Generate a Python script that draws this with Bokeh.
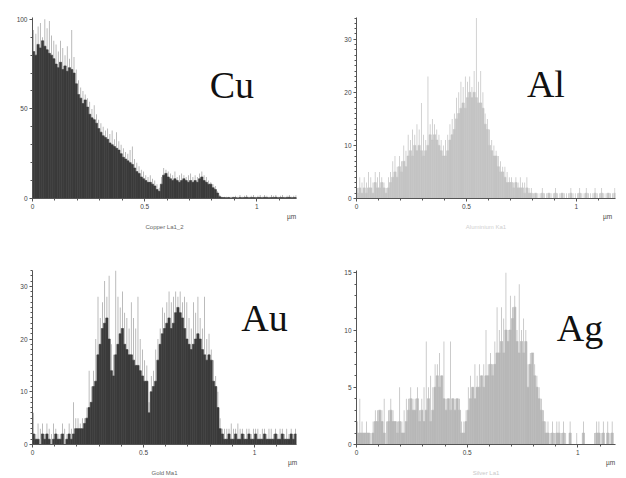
import numpy as np
from bokeh.plotting import figure
from bokeh.layouts import gridplot
from bokeh.models import (Range1d, FixedTicker, Label, NumeralTickFormatter,
                          LinearAxis, CustomJSTickFormatter)
from bokeh.embed import file_html
from bokeh.resources import INLINE

BIN = 0.01  # µm per histogram bin

# ---------------- data (counts per bin) ----------------
cu_body = [82, 80, 86, 84, 88, 85, 83, 81, 80, 78,
           75, 73, 76, 72, 74, 71, 73, 72, 70, 64,
           58, 56, 53, 55, 51, 47, 45, 44, 42, 39,
           37, 35, 34, 33, 31, 30, 29, 28, 27, 25,
           23, 22, 21, 20, 19, 17, 15, 14, 12, 11,
           10, 9, 9, 8, 7, 5, 4, 8, 13, 14,
           12, 11, 10, 11, 10, 9, 10, 11, 10, 9,
           10, 9, 10, 9, 11, 12, 10, 9, 8, 8,
           6, 5, 3, 1, 0.5, 0.5, 0.4, 0.5, 0.3, 0.6,
           0.5, 0.3, 0.6, 0.4, 0.5, 0.7, 0.4, 0.5, 0.6, 0.4,
           0.5, 0.6, 0.4, 0.7, 0.5, 0.4, 0.6, 0.5, 0.7, 0.4,
           0.5, 0.6, 0.4, 0.5, 0.7, 0.4, 0.5, 0.6]
cu_peak = [94, 92, 96, 98, 90, 100, 95, 99, 91, 88,
           86, 82, 88, 84, 80, 85, 78, 94, 79, 72,
           66, 62, 60, 58, 56, 54, 50, 52, 47, 44,
           42, 40, 38, 39, 36, 38, 33, 37, 32, 30,
           28, 26, 25, 27, 29, 22, 20, 18, 16, 15,
           13, 12, 13, 11, 10, 8, 6, 12, 17, 16,
           15, 14, 13, 15, 12, 13, 14, 13, 12, 13,
           14, 12, 13, 12, 14, 15, 13, 12, 10, 9,
           8, 7, 4, 2, 1, 1, 1, 1, 1, 1,
           1.5, 1, 2, 1, 1.5, 2, 1, 1.5, 2, 1,
           1.5, 2, 1, 2, 1.5, 1, 2, 1.5, 2, 1,
           1.5, 2, 1, 1.5, 2, 1, 1.5, 2]

al_body = [1, 2, 1, 2, 1, 2, 2, 1, 3, 2,
           2, 3, 2, 1, 2, 3, 4, 5, 4, 6,
           5, 7, 6, 8, 9, 8, 10, 9, 10, 9,
           8, 9, 10, 12, 11, 12, 11, 10, 9, 8,
           8, 9, 11, 12, 13, 15, 16, 17, 18, 17,
           19, 20, 19, 20, 19, 18, 18, 17, 14, 13,
           10, 9, 8, 8, 6, 5, 5, 4, 3, 3,
           3, 2, 3, 2, 2, 2, 1, 2, 1, 1,
           0, 1, 0, 0, 1, 0, 0, 1, 0, 0,
           1, 0, 0, 1, 0, 0, 0, 1, 0, 0,
           0, 1, 0, 0, 1, 0, 0, 0, 1, 0,
           0, 1, 0, 0, 1, 0, 0, 1]
al_peak = [2, 4, 3, 4, 3, 5, 4, 3, 5, 4,
           5, 4, 3, 2, 4, 5, 7, 8, 6, 8,
           7, 10, 9, 12, 11, 13, 12, 14, 13, 18,
           12, 11, 23, 14, 15, 14, 13, 12, 11, 10,
           11, 12, 14, 15, 16, 19, 20, 22, 21, 23,
           22, 23, 21, 24, 34, 22, 24, 20, 16, 15,
           13, 11, 10, 9, 8, 7, 6, 6, 5, 4,
           4, 3, 4, 3, 4, 3, 3, 4, 2, 2,
           1, 1, 1, 1, 2, 1, 1, 1, 1, 1,
           2, 1, 1, 1, 1, 1, 1, 2, 1, 1,
           1, 2, 1, 1, 2, 1, 1, 1, 2, 1,
           1, 2, 1, 1, 1, 1, 1, 2]

au_body = [2, 1, 1, 0, 2, 1, 2, 1, 0, 1,
           2, 1, 1, 2, 0, 1, 2, 1, 2, 3,
           3, 3, 3, 4, 5, 7, 8, 11, 12, 17,
           19, 22, 23, 24, 20, 14, 13, 17, 19, 21,
           22, 19, 18, 17, 17, 16, 15, 15, 14, 13,
           12, 12, 6, 10, 11, 12, 16, 19, 21, 22,
           23, 24, 22, 23, 25, 26, 25, 24, 22, 20,
           19, 18, 19, 20, 21, 20, 18, 17, 16, 17,
           16, 12, 11, 7, 3, 2, 1, 1, 2, 1,
           1, 2, 1, 1, 2, 1, 1, 2, 1, 1,
           2, 1, 1, 1, 2, 1, 1, 1, 1, 2,
           1, 1, 2, 1, 1, 1, 2, 1, 2]
au_peak = [6, 2, 4, 3, 4, 2, 4, 3, 2, 4,
           3, 2, 2, 4, 3, 2, 4, 3, 8, 5,
           5, 4, 5, 5, 7, 14, 11, 14, 20, 28,
           24, 27, 31, 28, 32, 19, 17, 33, 28, 26,
           29, 25, 24, 22, 27, 24, 22, 28, 20, 18,
           16, 15, 8, 13, 14, 18, 20, 22, 26, 25,
           27, 29, 27, 28, 29, 28, 29, 27, 28, 27,
           24, 22, 27, 25, 28, 24, 22, 28, 20, 21,
           18, 16, 13, 10, 5, 3, 3, 3, 3, 4,
           3, 3, 4, 3, 3, 2, 3, 3, 2, 3,
           3, 3, 2, 3, 3, 2, 3, 3, 2, 3,
           2, 3, 3, 2, 3, 2, 3, 2, 3]

ag_body = [1, 1, 1, 1, 1, 1, 0, 1, 2, 2,
           3, 2, 1, 0, 2, 3, 2, 2, 1, 2,
           1, 1, 2, 3, 4, 3, 3, 4, 2, 3,
           2, 3, 4, 2, 3, 5, 6, 5, 6, 4,
           3, 4, 3, 4, 3, 4, 3, 1, 1, 2,
           3, 4, 5, 4, 5, 5, 6, 5, 6, 6,
           7, 6, 7, 8, 8, 9, 8, 10, 9, 10,
           11, 12, 9, 8, 9, 8, 9, 5, 7, 8,
           6, 5, 4, 3, 2, 1, 1, 0, 1, 0,
           1, 1, 0, 1, 0, 0, 1, 0, 0, 0,
           0, 0, 1, 0, 0, 0, 0, 0, 1, 1,
           0, 1, 0, 1, 0, 1, 0]
ag_peak = [2, 4, 2, 1, 2, 1, 1, 2, 3, 3,
           3, 3, 4, 2, 3, 4, 3, 2, 2, 5,
           2, 3, 4, 4, 5, 4, 4, 5, 3, 4,
           5, 9, 5, 6, 5, 7, 7, 8, 6, 9,
           4, 4, 9, 4, 4, 4, 4, 2, 2, 3,
           5, 6, 5, 7, 6, 7, 6, 7, 10, 7,
           8, 7, 9, 12, 10, 12, 11, 15, 10, 13,
           12, 13, 10, 14, 10, 11, 10, 7, 8, 8,
           7, 6, 5, 4, 3, 2, 2, 1, 2, 1,
           2, 2, 1, 2, 1, 0, 2, 0, 0, 1,
           0, 0, 2, 0, 0, 0, 0, 1, 2, 2,
           1, 2, 0, 2, 1, 2, 0]

elements = ["Cu", "Al", "Au", "Ag"]
axis_titles = ["Copper La1_2", "Aluminium Ka1", "Gold Ma1", "Silver La1"]
unit_label = "µm"
y_major = [[0, 50, 100], [0, 10, 20, 30], [0, 10, 20, 30], [0, 5, 10, 15]]
y_minor_step = [10, 1, 1, 1]
x_major = [0, 0.5, 1]


def panel(body, peak, element, title, ymaj, ystep, x_end, y_end, unit_x,
          w, h, bl, br, bt, bb, body_col, peak_col, title_col,
          el_x, el_y):
    n = len(body)
    xs = np.arange(n) * BIN + BIN / 2
    p = figure(width=w, height=h, output_backend="svg", toolbar_location=None,
               x_range=Range1d(0, x_end), y_range=Range1d(0, y_end),
               min_border_left=bl, min_border_right=br,
               min_border_top=bt, min_border_bottom=bb,
               background_fill_color="white", border_fill_color="white")
    p.outline_line_color = None
    p.grid.visible = False
    p.vbar(x=xs, top=peak, width=BIN * 0.35, fill_color=peak_col,
           line_color=None)
    p.vbar(x=xs, top=body, width=BIN, fill_color=body_col,
           line_color=body_col, line_width=0.6)

    for ax in (p.xaxis[0], p.yaxis[0]):
        ax.axis_line_color = "#555555"
        ax.axis_line_width = 1
        ax.major_tick_line_color = "#555555"
        ax.minor_tick_line_color = "#555555"
        ax.major_tick_in = 0
        ax.major_tick_out = 3
        ax.minor_tick_in = 0
        ax.minor_tick_out = 2
        ax.major_label_text_font = "Liberation Sans"
        ax.major_label_text_font_size = "6.5px"
        ax.major_label_text_color = "#444444"
        ax.major_label_standoff = 2
    p.xaxis.ticker = FixedTicker(ticks=x_major,
                                 minor_ticks=[round(i * 0.1, 1) for i in range(12)])
    p.xaxis.formatter = NumeralTickFormatter(format="0.[0]")
    p.yaxis.ticker = FixedTicker(ticks=ymaj,
                                 minor_ticks=list(range(0, int(y_end) + 1, ystep)))
    p.yaxis.formatter = NumeralTickFormatter(format="0")

    # second, line-less axis below: carries the unit and the channel title
    ax2 = LinearAxis(ticker=FixedTicker(ticks=[unit_x]),
                     formatter=CustomJSTickFormatter(code="return '%s';" % unit_label))
    ax2.axis_line_color = None
    ax2.major_tick_line_color = None
    ax2.minor_tick_line_color = None
    ax2.major_tick_out = 0
    ax2.major_tick_in = 0
    ax2.major_label_standoff = 1
    ax2.major_label_text_font = "Liberation Sans"
    ax2.major_label_text_font_size = "6.5px"
    ax2.major_label_text_color = "#444444"
    ax2.axis_label = title
    ax2.axis_label_text_font = "Liberation Sans"
    ax2.axis_label_text_font_size = "6px"
    ax2.axis_label_text_font_style = "normal"
    ax2.axis_label_text_color = title_col
    ax2.axis_label_standoff = 1
    p.add_layout(ax2, "below")

    p.add_layout(Label(x=el_x, y=el_y, text=element,
                       text_font="Liberation Serif", text_font_size="38px",
                       text_color="#111111", text_align="left",
                       text_baseline="middle"))
    return p


p1 = panel(cu_body, cu_peak, elements[0], axis_titles[0], y_major[0], y_minor_step[0],
           1.177, 101, 1.155, 313, 236, 30, 10, 8, 38,
           "#3b3b3b", "#a8a8a8", "#666666", 0.79, 63.5)
p2 = panel(al_body, al_peak, elements[1], axis_titles[1], y_major[1], y_minor_step[1],
           1.178, 34.1, 1.142, 313, 236, 43, 5, 17, 37,
           "#c4c4c4", "#c4c4c4", "#d0d0d0", 0.775, 21.6)
p3 = panel(au_body, au_peak, elements[2], axis_titles[2], y_major[2], y_minor_step[2],
           1.189, 33, 1.171, 313, 242, 32, 17, 32, 30,
           "#3b3b3b", "#a8a8a8", "#666666", 0.94, 23.9)
p4 = panel(ag_body, ag_peak, elements[3], axis_titles[3], y_major[3], y_minor_step[3],
           1.170, 15.2, 1.148, 313, 242, 41, 11, 34, 28,
           "#b8b8b8", "#bcbcbc", "#c8c8c8", 0.905, 10.2)

grid = gridplot([[p1, p2], [p3, p4]], toolbar_location=None)

open("out.html", "w").write(file_html(grid, INLINE))
